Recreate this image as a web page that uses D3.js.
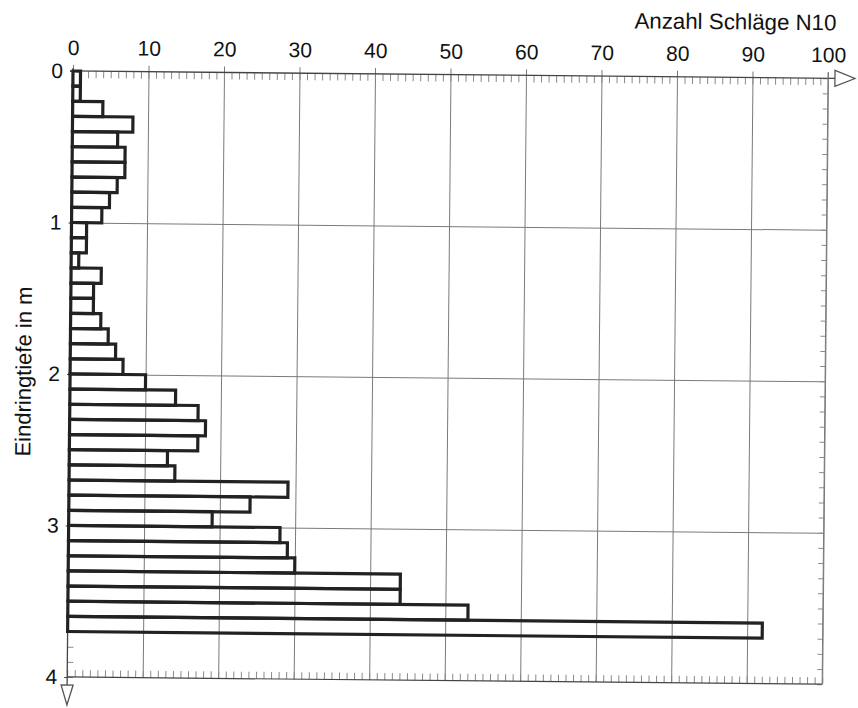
<!DOCTYPE html>
<html>
<head>
<meta charset="utf-8">
<script src="https://cdn.jsdelivr.net/npm/d3@7"></script>
<style>
  html, body { margin: 0; padding: 0; background: #fff; }
  svg text { font-family: "Liberation Sans", Arial, sans-serif; fill: #111; }
</style>
</head>
<body>
<svg id="chart" width="858" height="708"></svg>
<script>
// Rammsondierung: Schlagzahlen je 10 cm Eindringung
const depthTop = [0.0, 0.1, 0.2, 0.3, 0.4, 0.5, 0.6, 0.7, 0.8, 0.9,
                  1.0, 1.1, 1.2, 1.3, 1.4, 1.5, 1.6, 1.7, 1.8, 1.9,
                  2.0, 2.1, 2.2, 2.3, 2.4, 2.5, 2.6, 2.7, 2.8, 2.9,
                  3.0, 3.1, 3.2, 3.3, 3.4, 3.5, 3.6];
const blows    = [1, 1, 4, 8, 6, 7, 7, 6, 5, 4,
                  2, 2, 1, 4, 3, 3, 4, 5, 6, 7,
                  10, 14, 17, 18, 17, 13, 14, 29, 24, 19,
                  28, 29, 30, 44, 44, 53, 92];
const stepDepth = 0.1;
const xTicks = [0, 10, 20, 30, 40, 50, 60, 70, 80, 90, 100];
const yTicks = [0, 1, 2, 3, 4];
const xTitle = "Anzahl Schläge N10";
const yTitle = "Eindringtiefe in m";

const marginLeft = 73, marginTop = 71, W = 755, H = 606;
const svg = d3.select("#chart");
const g = svg.append("g").attr("transform", `translate(${marginLeft},${marginTop}) rotate(0.55)`);

const x = d3.scaleLinear().domain([0, 100]).range([0, W]);
const y = d3.scaleLinear().domain([0, 4]).range([0, H]);

const gridColor = "#7a7a7a", axisColor = "#444", tickColor = "#8a8a8a";

// vertical grid lines every 10 blows
g.append("g").attr("class", "vgrid")
  .call(d3.axisTop(x).tickValues(xTicks.slice(1)).tickSize(-H).tickFormat(""))
  .call(s => s.select(".domain").remove())
  .selectAll("line").attr("stroke", gridColor).attr("stroke-width", 1);

// horizontal grid lines every metre
g.append("g").attr("class", "hgrid")
  .call(d3.axisLeft(y).tickValues(yTicks.slice(1, -1)).tickSize(-W).tickFormat(""))
  .call(s => s.select(".domain").remove())
  .selectAll("line").attr("stroke", gridColor).attr("stroke-width", 1);

// minor ticks: top and bottom every blow, left and right every 10 cm
const minorX = d3.range(0, 101, 1);
const minorY = d3.range(0, 41, 1).map(i => i / 10);
g.append("g").attr("class", "minor-top")
  .call(d3.axisTop(x).tickValues(minorX).tickSize(-7).tickFormat(""))
  .call(s => s.select(".domain").remove())
  .selectAll("line").attr("stroke", tickColor).attr("stroke-width", 1);
g.append("g").attr("class", "minor-bottom").attr("transform", `translate(0,${H})`)
  .call(d3.axisBottom(x).tickValues(minorX).tickSize(-7).tickFormat(""))
  .call(s => s.select(".domain").remove())
  .selectAll("line").attr("stroke", tickColor).attr("stroke-width", 1);
g.append("g").attr("class", "minor-left")
  .call(d3.axisLeft(y).tickValues(minorY).tickSize(-6).tickFormat(""))
  .call(s => s.select(".domain").remove())
  .selectAll("line").attr("stroke", tickColor).attr("stroke-width", 1);
g.append("g").attr("class", "minor-right").attr("transform", `translate(${W},0)`)
  .call(d3.axisRight(y).tickValues(minorY).tickSize(-5).tickFormat(""))
  .call(s => s.select(".domain").remove())
  .selectAll("line").attr("stroke", tickColor).attr("stroke-width", 1);

// main axes with labels
const topAxis = g.append("g").attr("class", "x-axis")
  .call(d3.axisTop(x).tickValues(xTicks).tickSize(6).tickPadding(10).tickSizeOuter(0)
    .tickFormat(d3.format("d")));
topAxis.select(".domain").remove();
topAxis.selectAll("line").attr("stroke", gridColor);
topAxis.selectAll("text").attr("font-size", 21).attr("fill", "#111");

const leftAxis = g.append("g").attr("class", "y-axis")
  .call(d3.axisLeft(y).tickValues(yTicks).tickSize(3).tickPadding(7).tickSizeOuter(0)
    .tickFormat(d3.format("d")));
leftAxis.select(".domain").remove();
leftAxis.selectAll("line").attr("stroke", axisColor);
leftAxis.selectAll("text").attr("font-size", 21).attr("fill", "#111");

// axis lines
g.append("line").attr("x1", -3).attr("x2", W + 7).attr("y1", 0).attr("y2", 0)
  .attr("stroke", axisColor).attr("stroke-width", 1.3);
g.append("line").attr("x1", 0).attr("x2", W).attr("y1", H).attr("y2", H)
  .attr("stroke", axisColor).attr("stroke-width", 1.2);
g.append("line").attr("x1", 0).attr("x2", 0).attr("y1", -3).attr("y2", H + 8)
  .attr("stroke", axisColor).attr("stroke-width", 1.3);
g.append("line").attr("x1", W).attr("x2", W).attr("y1", -6).attr("y2", H)
  .attr("stroke", gridColor).attr("stroke-width", 1);

// arrow heads
g.append("path")
  .attr("d", `M${W + 7},-8 L${W + 27},0 L${W + 7},8 Z`)
  .attr("fill", "#fff").attr("stroke", "#555").attr("stroke-width", 1.3);
g.append("path")
  .attr("d", `M-6,${H + 8} L6,${H + 8} L0,${H + 28} Z`)
  .attr("fill", "#fff").attr("stroke", "#555").attr("stroke-width", 1.3);

// bars: one per 10 cm interval
g.append("g").attr("class", "bars")
  .selectAll("rect")
  .data(depthTop.map((d, i) => ({ depth: d, n: blows[i] })))
  .join("rect")
  .attr("x", x(0))
  .attr("y", d => y(d.depth))
  .attr("width", d => x(d.n) - x(0))
  .attr("height", d => y(d.depth + stepDepth) - y(d.depth))
  .attr("fill", "none")
  .attr("stroke", "#222")
  .attr("stroke-width", 3.2);

// titles
g.append("text")
  .attr("x", 763).attr("y", -48)
  .attr("text-anchor", "end")
  .attr("font-size", 22.3)
  .text(xTitle);
g.append("text")
  .attr("transform", `translate(-39,301) rotate(-90)`)
  .attr("text-anchor", "middle")
  .attr("font-size", 22)
  .text(yTitle);
</script>
</body>
</html>
